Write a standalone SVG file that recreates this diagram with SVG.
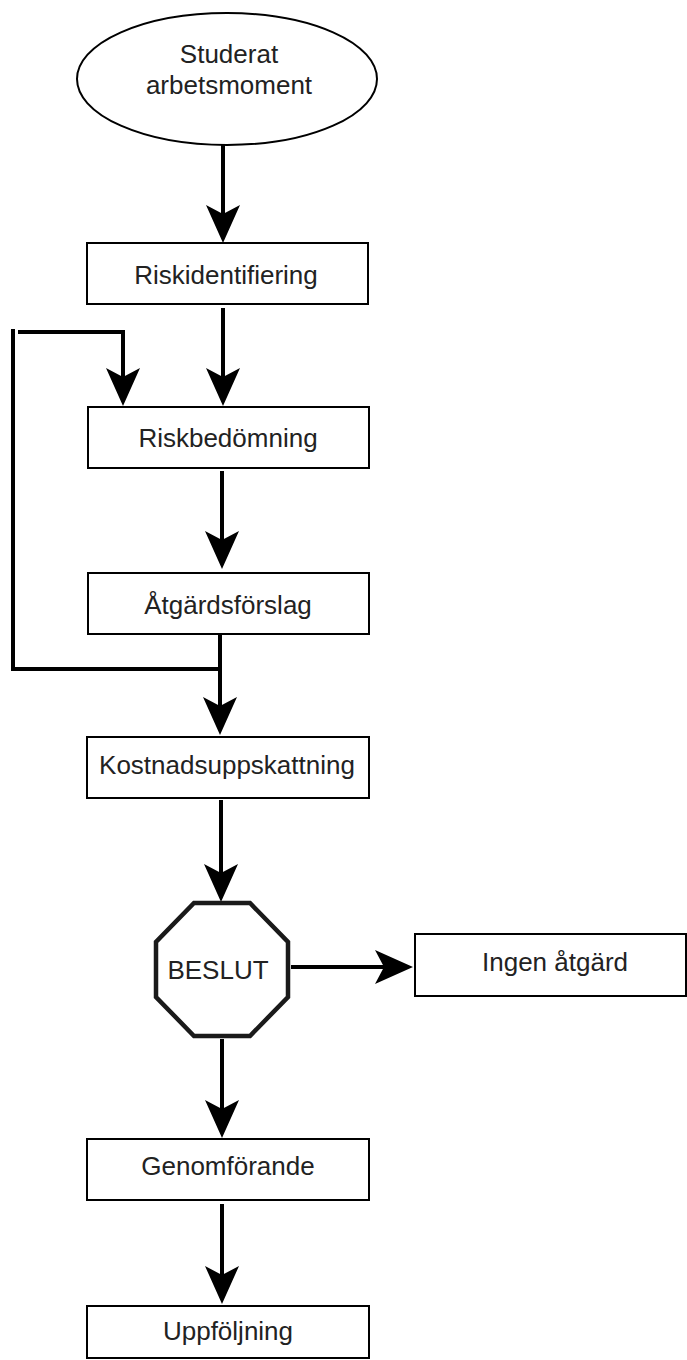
<svg xmlns="http://www.w3.org/2000/svg" width="687" height="1360" viewBox="0 0 687 1360">
<style>
.box{fill:#fff;stroke:#000;stroke-width:2}
.oct{fill:#fff;stroke:#1a1a1a;stroke-width:4.5;stroke-linejoin:miter}
.lbl{font-family:"Liberation Sans",Arial,sans-serif;font-size:26px;fill:#222;text-anchor:middle}
.con{fill:none;stroke:#000;stroke-width:4}
</style>
<defs>
<marker id="arr" markerUnits="userSpaceOnUse" viewBox="0 0 38 34" markerWidth="38" markerHeight="34" refX="10" refY="17" orient="auto">
<path d="M0,0 L38,17 L0,34 L9,17 z" fill="#000"/>
</marker>
</defs>
<rect width="687" height="1360" fill="#fff"/>
<g id="connectors">
<path class="con" d="M223,145 V215" marker-end="url(#arr)"/>
<path class="con" d="M223,308 V378" marker-end="url(#arr)"/>
<path class="con" d="M220,669 H13 V329"/>
<path class="con" d="M18,332 H123 V378" marker-end="url(#arr)"/>
<path class="con" d="M222,471 V541" marker-end="url(#arr)"/>
<path class="con" d="M220,635 V707" marker-end="url(#arr)"/>
<path class="con" d="M221,800 V874" marker-end="url(#arr)"/>
<path class="con" d="M291,967 H385" marker-end="url(#arr)"/>
<path class="con" d="M222,1039 V1110" marker-end="url(#arr)"/>
<path class="con" d="M222,1204 V1276" marker-end="url(#arr)"/>
</g>
<g id="start">
<ellipse cx="227" cy="79" rx="150" ry="66" class="box"/>
<text class="lbl" x="229" y="63">Studerat</text>
<text class="lbl" x="229" y="94">arbetsmoment</text>
</g>
<g id="riskidentifiering">
<rect class="box" x="87" y="243" width="281" height="61"/>
<text class="lbl" x="226" y="284">Riskidentifiering</text>
</g>
<g id="riskbedomning">
<rect class="box" x="88" y="407" width="281" height="61"/>
<text class="lbl" x="228" y="447">Riskbedömning</text>
</g>
<g id="atgardsforslag">
<rect class="box" x="88" y="573" width="281" height="61"/>
<text class="lbl" x="228" y="614">Åtgärdsförslag</text>
</g>
<g id="kostnad">
<rect class="box" x="87" y="737" width="282" height="61"/>
<text class="lbl" x="227" y="774">Kostnadsuppskattning</text>
</g>
<g id="beslut">
<polygon class="oct" points="194,903 250,903 288,942 288,997 250,1036 194,1036 156,997 156,942"/>
<text class="lbl" x="218" y="979">BESLUT</text>
</g>
<g id="ingen">
<rect class="box" x="415" y="934" width="271" height="62"/>
<text class="lbl" x="555" y="971">Ingen åtgärd</text>
</g>
<g id="genomforande">
<rect class="box" x="87" y="1139" width="282" height="61"/>
<text class="lbl" x="228" y="1175">Genomförande</text>
</g>
<g id="uppfoljning">
<rect class="box" x="87" y="1306" width="282" height="52"/>
<text class="lbl" x="228" y="1340">Uppföljning</text>
</g>
</svg>
